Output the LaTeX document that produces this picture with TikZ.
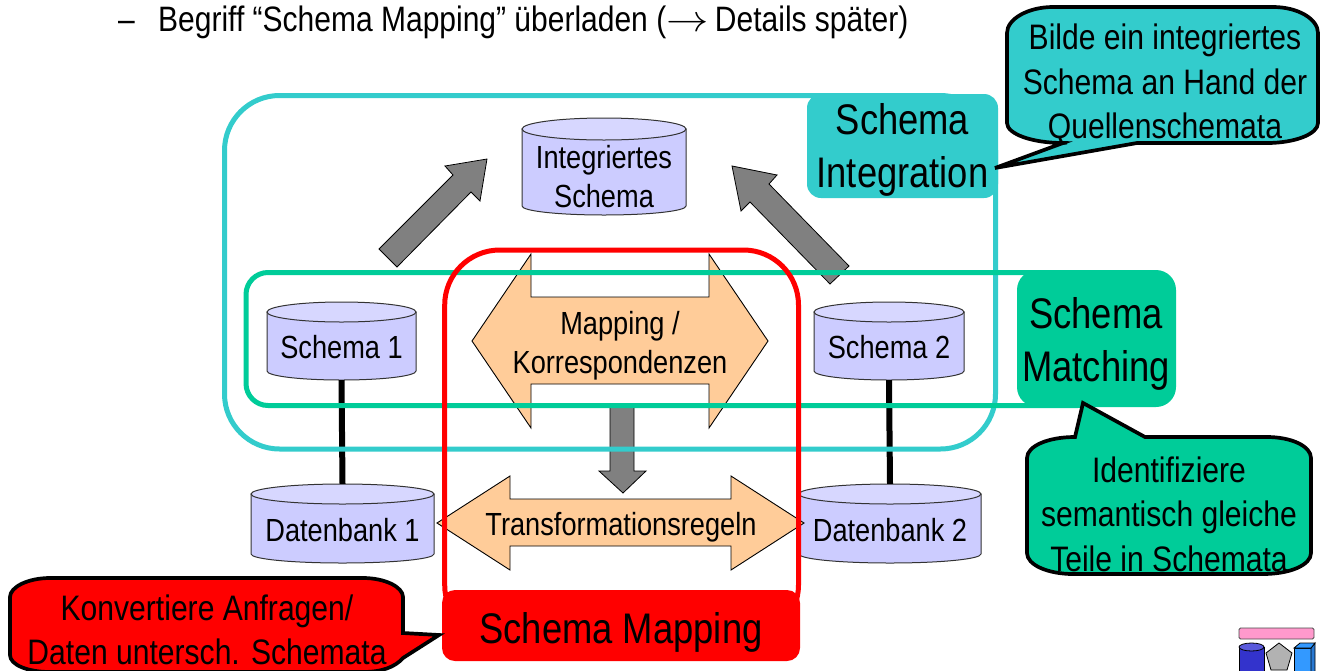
\documentclass[tikz,border=0pt]{standalone}
\usepackage{graphicx}
\usepackage{fontspec}
\setmainfont[FakeStretch=0.85]{Liberation Sans}
\definecolor{cyl}{RGB}{204,204,255}
\definecolor{cylt}{RGB}{215,215,255}
\definecolor{teal1}{RGB}{51,204,204}
\definecolor{green1}{RGB}{0,204,153}
\definecolor{peach}{RGB}{255,204,153}
\definecolor{gray1}{RGB}{128,128,128}
\definecolor{logopink}{RGB}{255,153,204}
\definecolor{logoblue}{RGB}{51,51,204}
\definecolor{logobluet}{RGB}{90,90,220}
\definecolor{logogray}{RGB}{178,178,178}
\definecolor{logosky}{RGB}{51,153,255}
\definecolor{logoskyd}{RGB}{40,120,210}
\tikzset{
 x=1pt,y=-1pt,
 txt/.style={font=\fontsize{32}{39}\selectfont,align=center,inner sep=0pt},
 calltxt/.style={font=\fontsize{35.4}{44.5}\selectfont,align=center,inner sep=0pt},
 big/.style={font=\fontsize{42.8}{53}\selectfont,align=center,inner sep=0pt},
 titletxt/.style={font=\fontsize{35.3}{44}\selectfont,anchor=base west,inner sep=0pt},
 cylbody/.style={draw=black!80,line width=1pt,fill=cyl},
 cyltop/.style={draw=black!80,line width=1pt,fill=cylt},
 grayarrow/.style={draw=black,line width=.8pt,fill=gray1},
 peacharrow/.style={draw=black,line width=.9pt,fill=peach},
 callout/.style={draw=black,line width=3.7pt,line join=miter},
 frame/.style={line width=5pt,rounded corners=#1},
 link/.style={line width=6pt,black},
 logoline/.style={draw=black,line width=.8pt},
}
\newcommand{\cylinderat}[8]{% x1 y1 x2 y2 ry name text texty
 \draw[cylbody] (#1,#2+#5) -- (#1,#4-9) .. controls (#1,#4-4) and (#1*.78+#3*.22,#4) .. ({(#1+#3)/2},#4) .. controls (#3*.78+#1*.22,#4) and (#3,#4-4) .. (#3,#4-9) -- (#3,#2+#5) -- cycle;
 \draw[cyltop] ({(#1+#3)/2},#2+#5) ellipse[x radius={(#3-#1)/2},y radius=#5];
 \node[minimum width={#3-#1},minimum height={#4-#2},inner sep=0pt] (#6) at ({(#1+#3)/2},{(#2+#4)/2}) {};
 \node[txt] (#6t) at ({(#1+#3)/2},#8) {#7};
}
\begin{document}
\begin{tikzpicture}
\useasboundingbox (0,0) rectangle (1325,670);
\path[fill=white] (0,0) rectangle (1325,670);
% title
\node[titletxt] (dash) at (118,31) {–};
\node[titletxt] (title) at (158,31) {Begriff “Schema Mapping” überladen (\scalebox{1.7}[1.5]{$\rightarrow$}\kern-2pt\ Details später)};
% grey arrows
\draw[grayarrow] (397,267) -- (471,192) -- (480,201) -- (487,159) -- (445,166) -- (453,175) -- (379,249) -- cycle;
\draw[grayarrow] (849,266) -- (769,184) -- (777,175) -- (732,166) -- (741,211) -- (750,202) -- (830,284) -- cycle;
% cylinders
\cylinderat{522}{118}{686}{215}{11}{int}{Integriertes\\Schema}{177}
\cylinderat{267}{302}{416}{380}{10}{s1}{Schema 1}{347}
\cylinderat{814}{302}{964}{380}{10}{s2}{Schema 2}{347}
\cylinderat{251}{484}{434}{563}{10}{d1}{Datenbank 1}{530.5}
\cylinderat{799}{484}{981}{563}{10}{d2}{Datenbank 2}{530.5}
\draw[link] (s1.south) -- (d1.north);
\draw[link] (s2.south) -- (d2.north);
% peach arrows
\draw[peacharrow] (472,341) -- (531,254) -- (531,297) -- (709,297) -- (709,254) -- (768,341) -- (709,428) -- (709,384) -- (531,384) -- (531,428) -- cycle;
\node[txt] (map) at (620,346) {Mapping /\\Korrespondenzen};
\draw[peacharrow] (437,523) -- (510,476) -- (510,499) -- (731,499) -- (731,476) -- (804,523) -- (731,570) -- (731,546) -- (510,546) -- (510,570) -- cycle;
\node[txt] (tr) at (621,527) {Transformationsregeln};
\draw[grayarrow] (610,405) -- (610,471) -- (599,471) -- (623,493) -- (646,471) -- (634,471) -- (634,405) -- cycle;
% frames
\draw[teal1,frame=55] (224.5,95.5) rectangle (995.5,449);
\draw[green1,frame=22] (246,272.5) rectangle (1100,405.5);
\draw[red,frame=55] (444.7,250) rectangle (798.5,640);
% labels
\node[fill=teal1,rounded corners=14,minimum width=191,minimum height=104,inner sep=0pt] (li) at (902.5,146) {};
\node[big] (lit) at (902.5,150) {Schema\\Integration};
\node[fill=green1,rounded corners=20,minimum width=159,minimum height=137,inner sep=0pt] (lm) at (1096.5,338.5) {};
\node[big] (lmt) at (1096,344) {Schema\\Matching};
\node[fill=red,rounded corners=13,minimum width=358,minimum height=71,inner sep=0pt] (lr) at (621,625.5) {};
\node[big] (lrt) at (621,632) {Schema Mapping};
% callouts
\draw[callout,fill=teal1] (1063,143) -- (995,168) -- (1137,143) -- (1267,143) .. controls (1295,143) and (1318,134) .. (1318,123) -- (1318,33) .. controls (1318,19) and (1298,7) .. (1273,7) -- (1053,7) .. controls (1028,7) and (1007,19) .. (1007,33) -- (1007,123) .. controls (1007,134) and (1032,143) .. (1063,143) -- cycle;
\node[calltxt] (c1) at (1165,85) {Bilde ein integriertes\\Schema an Hand der\\Quellenschemata};
\draw[callout,fill=green1] (1075,437) -- (1083,403) -- (1145,437) -- (1267,437) .. controls (1291,437) and (1311,446) .. (1311,458) -- (1311,553) .. controls (1311,565) and (1290,574) .. (1263,574) -- (1073,574) .. controls (1048,574) and (1027,565) .. (1027,553) -- (1027,458) .. controls (1027,446) and (1048,437) .. (1075,437) -- cycle;
\node[calltxt] (c2) at (1169,514) {Identifiziere\\semantisch gleiche\\Teile in Schemata};
\begin{scope}
\clip (0,0) rectangle (1325,670);
\draw[callout,fill=red] (403,633) -- (439,635) -- (403,658) .. controls (395,667) and (382,672) .. (363,672) -- (50,672) .. controls (28,672) and (10,665) .. (10,655) -- (10,597) .. controls (10,587) and (28,578) .. (50,578) -- (363,578) .. controls (385,578) and (403,587) .. (403,597) -- cycle;
\end{scope}
\node[calltxt] (c3) at (207,630) {Konvertiere Anfragen/\\Daten untersch. Schemata};
% logo
\draw[draw=black!70,line width=.8pt,fill=logopink,rounded corners=1.5] (1239,628) rectangle (1314,639);
\begin{scope}
\clip (1230,640) rectangle (1325,670);
\draw[logoline,fill=logoblue] (1239,647) -- (1239,672) -- (1264,672) -- (1264,647) -- cycle;
\draw[logoline,fill=logobluet] (1251.5,647) ellipse[x radius=12.5,y radius=4];
\draw[logoline,fill=logogray] (1279,643) -- (1292,653) -- (1287,670) -- (1271,670) -- (1266,653) -- cycle;
\draw[logoline,fill=logosky] (1294,648) rectangle (1311,672);
\draw[logoline,fill=logoskyd] (1311,648) -- (1315,643) -- (1315,672) -- (1311,672) -- cycle;
\draw[logoline,fill=logosky] (1294,648) -- (1300,643) -- (1315,643) -- (1311,648) -- cycle;
\end{scope}
\end{tikzpicture}
\end{document}
